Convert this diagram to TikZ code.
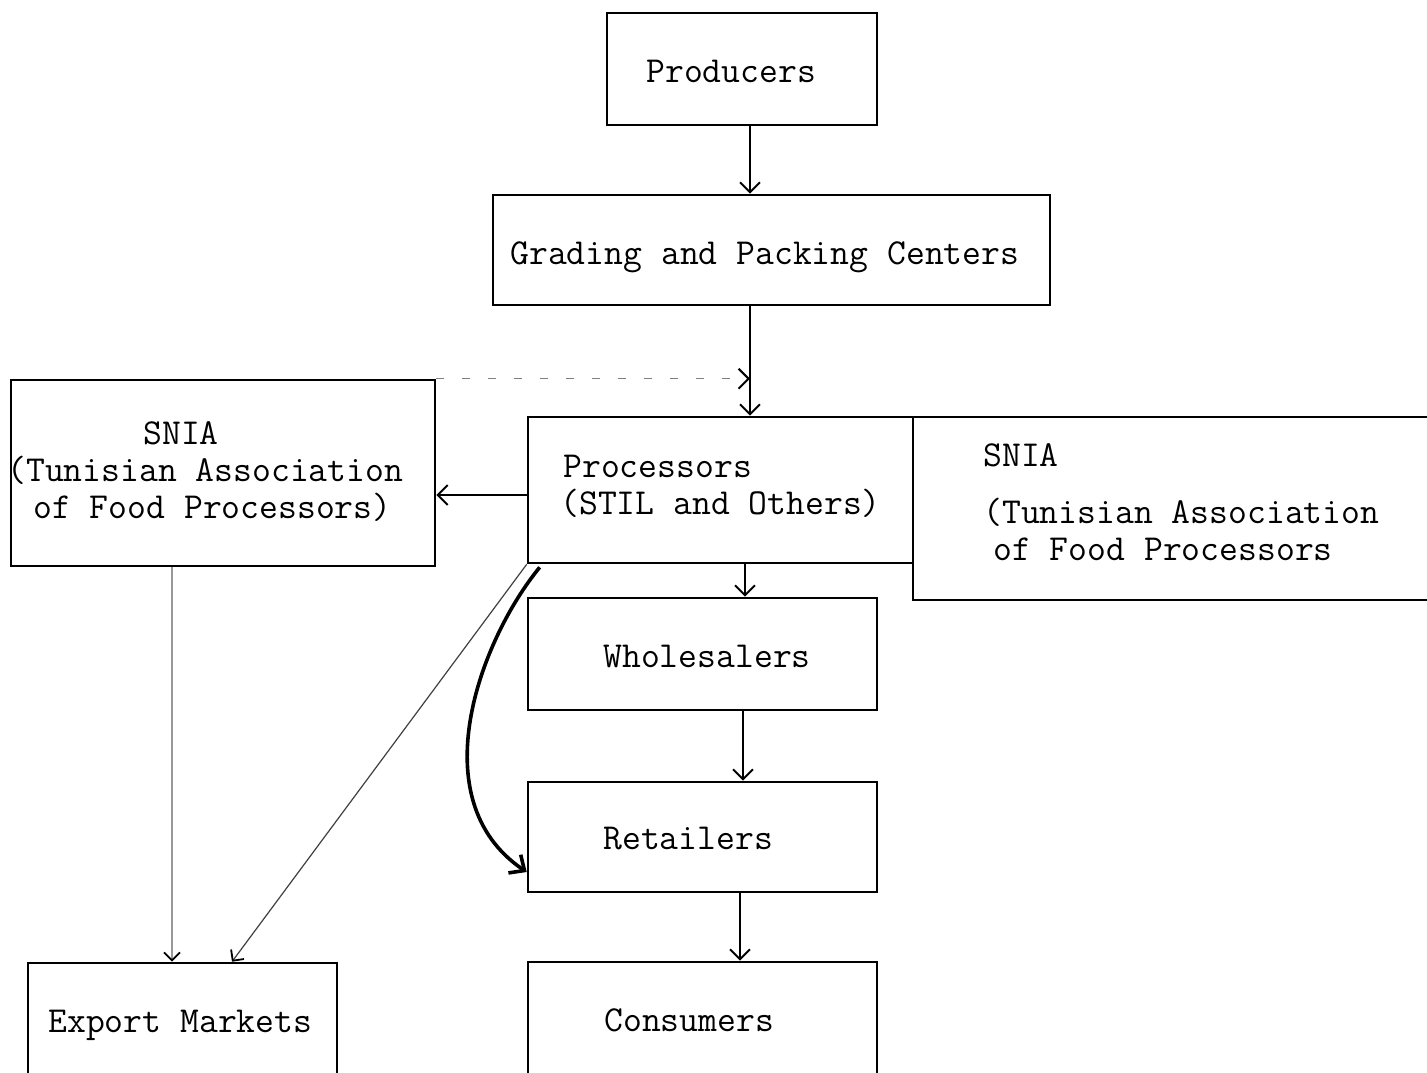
\documentclass[tikz,border=0pt]{standalone}
\usepackage{fontspec}
\usetikzlibrary{arrows.meta,calc}
\begin{document}
\begin{tikzpicture}[x=0.5pt,y=-0.5pt,
  box/.style={draw, line width=1.3pt, inner sep=0pt, rectangle},
  txt/.style={inner sep=0pt, anchor=base west, align=left, font=\fontsize{18.3}{18.5}\selectfont\ttfamily},
  arr/.style={line width=1pt, -{Straight Barb[length=5pt,width=10pt,line width=1pt]}},
  thinarr/.style={line width=0.6pt, -{Straight Barb[length=4pt,width=8pt,line width=0.9pt,color=black]}},
  dsh/.style={line width=0.7pt, gray, dash pattern=on 4pt off 9pt, -{Straight Barb[length=5pt,width=10pt,line width=1pt,color=black]}},
  curvearr/.style={line width=1.8pt, -{Straight Barb[length=6pt,width=11pt,line width=1.8pt]}}]
\clip (0,0) rectangle (1427,1072);
\fill[white] (0,0) rectangle (1427,1072);

% boxes
\node[box, minimum width=135pt, minimum height=56pt] (prod) at (742,69) {};
\node[box, minimum width=278.5pt, minimum height=55pt] (grad) at (771.5,250) {};
\node[box, minimum width=212pt, minimum height=93pt] (sniaL) at (223,473) {};
\node[box, minimum width=192.5pt, minimum height=73pt] (proc) at (720.5,490) {};
\node[box, minimum width=259.5pt, minimum height=91.5pt] (sniaR) at (1172.5,508.5) {};
\node[box, minimum width=174.5pt, minimum height=56pt] (whole) at (702.5,654) {};
\node[box, minimum width=174.5pt, minimum height=55pt] (ret) at (702.5,837) {};
\node[box, minimum width=174.5pt, minimum height=59pt] (cons) at (702.5,1021) {};
\node[box, minimum width=154.5pt, minimum height=58.5pt] (exp) at (182.5,1021.5) {};

% texts (anchor = baseline of last line)
\node[txt] (tprod) at (646,82) {Producers};
\node[txt] (tgrad) at (510,264) {Grading and Packing Centers};
\node[txt] (tsl) at (7,518) {\hspace*{68pt}SNIA\\(Tunisian Association\\\hspace*{13pt}of Food Processors)};
\node[txt] (tpr) at (560,514) {\hspace*{1.5pt}Processors\\(STIL and Others)};
\node[txt] (tsr) at (983,560) {SNIA\\[10pt](Tunisian Association\\\hspace*{5pt}of Food Processors};
\node[txt] (twh) at (603,667) {Wholesalers};
\node[txt] (tre) at (603,849) {Retailers};
\node[txt] (tco) at (604,1031) {Consumers};
\node[txt] (tex) at (48,1032) {Export Markets};

% helper coordinates
\coordinate (c1) at (750,0);
\coordinate (c2) at (0,495);
\coordinate (c3) at (745,0);
\coordinate (c4) at (743,0);
\coordinate (c5) at (740,0);
\coordinate (c6) at (172,0);
\coordinate (c7) at (232,0);
\coordinate (c8) at (0,872);

% connectors
\draw[arr] (prod.south -| c1) -- (grad.north -| c1);
\draw[arr] (grad.south -| c1) -- (proc.north -| c1);
\draw[dsh] (sniaL.north east) -- (sniaL.north east -| c1);
\draw[arr] (proc.west |- c2) -- (sniaL.east |- c2);
\draw[arr] (proc.south -| c3) -- (whole.north -| c3);
\draw[arr] (whole.south -| c4) -- (ret.north -| c4);
\draw[arr] (ret.south -| c5) -- (cons.north -| c5);
\draw[thinarr, gray!80] (sniaL.south -| c6) -- (exp.north -| c6);
\draw[thinarr, black!75] (proc.south west) -- (exp.north -| c7);
\draw[curvearr] ($(proc.south west)+(13,3)$) .. controls (480,640) and (420,800) .. (ret.west |- c8);
\end{tikzpicture}
\end{document}
